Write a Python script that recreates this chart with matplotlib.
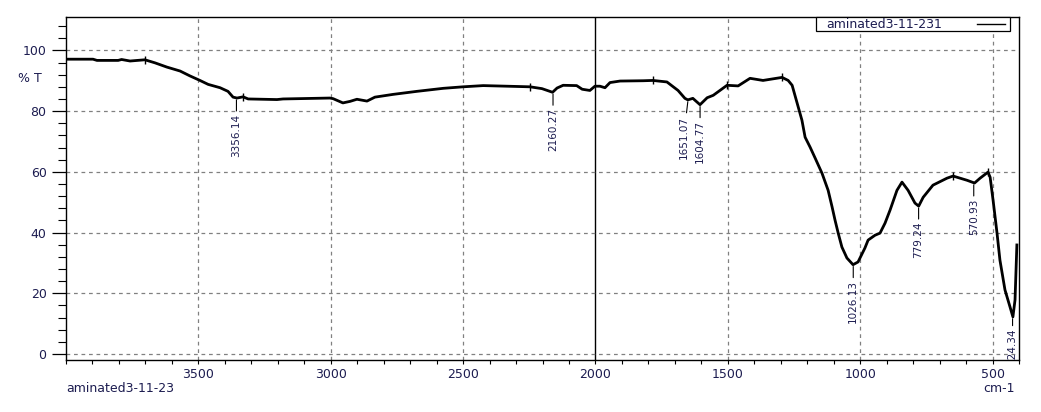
import matplotlib
matplotlib.use("Agg")
import matplotlib.pyplot as plt
from matplotlib.patches import Rectangle
from matplotlib.lines import Line2D
import numpy as np

# ---- data ----
wavenumber = [4000, 3898, 3883, 3803, 3790, 3758, 3702, 3664, 3619, 3569, 3532, 3494,
              3463, 3418, 3388, 3369, 3354, 3331, 3312, 3203, 3180, 3003, 2991, 2954,
              2927, 2901, 2863, 2833, 2765, 2675, 2575, 2500, 2424, 2334, 2247, 2202,
              2162, 2145, 2122, 2071, 2050, 2021, 2002, 1983, 1964, 1945, 1907, 1820,
              1783, 1730, 1688, 1662, 1651, 1632, 1605, 1578, 1555, 1503, 1461, 1416,
              1367, 1295, 1272, 1257, 1238, 1220, 1208, 1189, 1170, 1144, 1121, 1106,
              1095, 1083, 1069, 1050, 1027, 1008, 982, 970, 944, 925, 906, 887,
              861, 842, 819, 793, 779, 762, 725, 672, 649, 596, 568, 547, 517, 509,
              498, 483, 472, 453, 434, 423, 415, 408]
transmittance = [97.1, 97.1, 96.7, 96.7, 97.0, 96.5, 96.9, 95.9, 94.5, 93.2, 91.6, 90.1,
                 88.8, 87.7, 86.5, 84.6, 84.3, 84.7, 84.0, 83.8, 84.0, 84.3, 84.1, 82.7,
                 83.2, 83.9, 83.3, 84.6, 85.5, 86.5, 87.5, 88.0, 88.4, 88.2, 88.0, 87.4,
                 86.2, 87.6, 88.5, 88.4, 87.2, 86.8, 88.2, 88.2, 87.7, 89.4, 89.9, 90.0,
                 90.1, 89.6, 86.8, 84.2, 83.7, 84.2, 82.1, 84.4, 85.2, 88.5, 88.3, 90.8,
                 90.1, 91.1, 90.1, 88.5, 82.6, 77.0, 71.4, 68.1, 64.5, 59.5, 53.9, 48.4,
                 44.1, 39.8, 35.2, 31.6, 29.4, 30.3, 34.9, 37.5, 39.1, 39.8, 43.1, 47.4,
                 53.9, 56.6, 53.9, 49.7, 48.7, 51.6, 55.6, 57.9, 58.6, 57.2, 56.3, 57.9, 59.9, 58.2,
                 50.7, 39.8, 30.9, 21.1, 15.5, 12.2, 17.8, 35.9]

peak_positions = [3356.14, 2160.27, 1651.07, 1604.77, 1026.13, 779.24, 570.93, 424.34]
peak_values = [84.3, 86.2, 83.7, 82.1, 29.4, 48.7, 56.3, 12.2]
peak_labels = ["3356.14", "2160.27", "1651.07", "1604.77", "1026.13", "779.24", "570.93", "424.34"]

marker_positions = [3702, 3331, 2247, 1783, 1503, 1295, 649, 517]
marker_values = [96.9, 84.7, 88.0, 90.1, 88.5, 91.1, 58.6, 59.9]

x_ticks = [3500, 3000, 2500, 2000, 1500, 1000, 500]
y_ticks = [0, 20, 40, 60, 80, 100]
sample_name = "aminated3-11-23"
legend_name = "aminated3-11-231"

# ---- figure ----
W, H = 1041, 412
fig = plt.figure(figsize=(W / 100, H / 100), dpi=100)
ax = fig.add_axes([66 / W, 1 - 360 / H, (1019 - 66) / W, (360 - 17) / H])

txt_color = "#1c1c50"

ax.set_xlim(4000, 400)
ax.set_ylim(-2, 111)

# grid
for x in x_ticks:
    if x == 2000:
        ax.axvline(x, color="black", lw=1.0, zorder=1)
    else:
        ax.axvline(x, color="#808080", lw=0.9, ls=(0, (3, 3)), zorder=1)
for y in y_ticks:
    ax.axhline(y, color="#808080", lw=0.9, ls=(0, (3, 3)), zorder=1)

# spectrum
ax.plot(wavenumber, transmittance, color="black", lw=2.0, zorder=3,
        solid_joinstyle="round")
ax.plot(marker_positions, marker_values, ls="none", marker="|", ms=6,
        mew=1.0, color="black", zorder=4)

# peak labels
for wn, v, lab in zip(peak_positions, peak_values, peak_labels):
    dx = -3 if lab == "1651.07" else 0
    dy = -7 if lab == "424.34" else -10
    ax.annotate(lab, xy=(wn, v - 0.6), xytext=(dx, dy), textcoords="offset points",
                rotation=90, ha="center", va="top", fontsize=7.5, color=txt_color,
                annotation_clip=False, clip_on=True,
                arrowprops=dict(arrowstyle="-", lw=0.8, color="black",
                                shrinkA=0, shrinkB=0))

# ticks
ax.set_xticks(x_ticks)
ax.set_xticks(np.arange(400, 4001, 100), minor=True)
ax.set_yticks(y_ticks)
ax.set_yticks(np.arange(0, 111, 4), minor=True)
ax.tick_params(axis="x", which="major", direction="out", length=3, width=0.8,
               labelsize=9, labelcolor=txt_color, pad=3, top=False)
ax.tick_params(axis="x", which="minor", direction="out", length=3, width=0.8, top=False)
ax.tick_params(axis="y", which="major", direction="out", length=10, width=0.9,
               labelsize=9, labelcolor=txt_color, pad=4, right=False)
ax.tick_params(axis="y", which="minor", direction="out", length=6, width=0.8, right=False)
for s in ax.spines.values():
    s.set_linewidth(1.0)
    s.set_color("black")

# texts
fig.text(30 / W, 1 - 78 / H, "% T", fontsize=9, color=txt_color, ha="center", va="center")
fig.text(1015 / W, 1 - 389 / H, "cm-1", fontsize=9, color=txt_color, ha="right", va="center")
fig.text(66 / W, 1 - 389 / H, sample_name, fontsize=9, color=txt_color, ha="left", va="center")

# legend box
fig.patches.append(Rectangle((816 / W, 1 - 31 / H), (1010 - 816) / W, 14 / H,
                             transform=fig.transFigure, facecolor="white",
                             edgecolor="black", lw=0.9, zorder=5))
fig.text(826 / W, 1 - 24.5 / H, legend_name, fontsize=9, color=txt_color,
         ha="left", va="center", zorder=6)
fig.lines.append(Line2D([977 / W, 1005 / W], [1 - 24 / H, 1 - 24 / H],
                        transform=fig.transFigure, color="black", lw=1.0, zorder=6))

fig.savefig("out.png", dpi=100)
